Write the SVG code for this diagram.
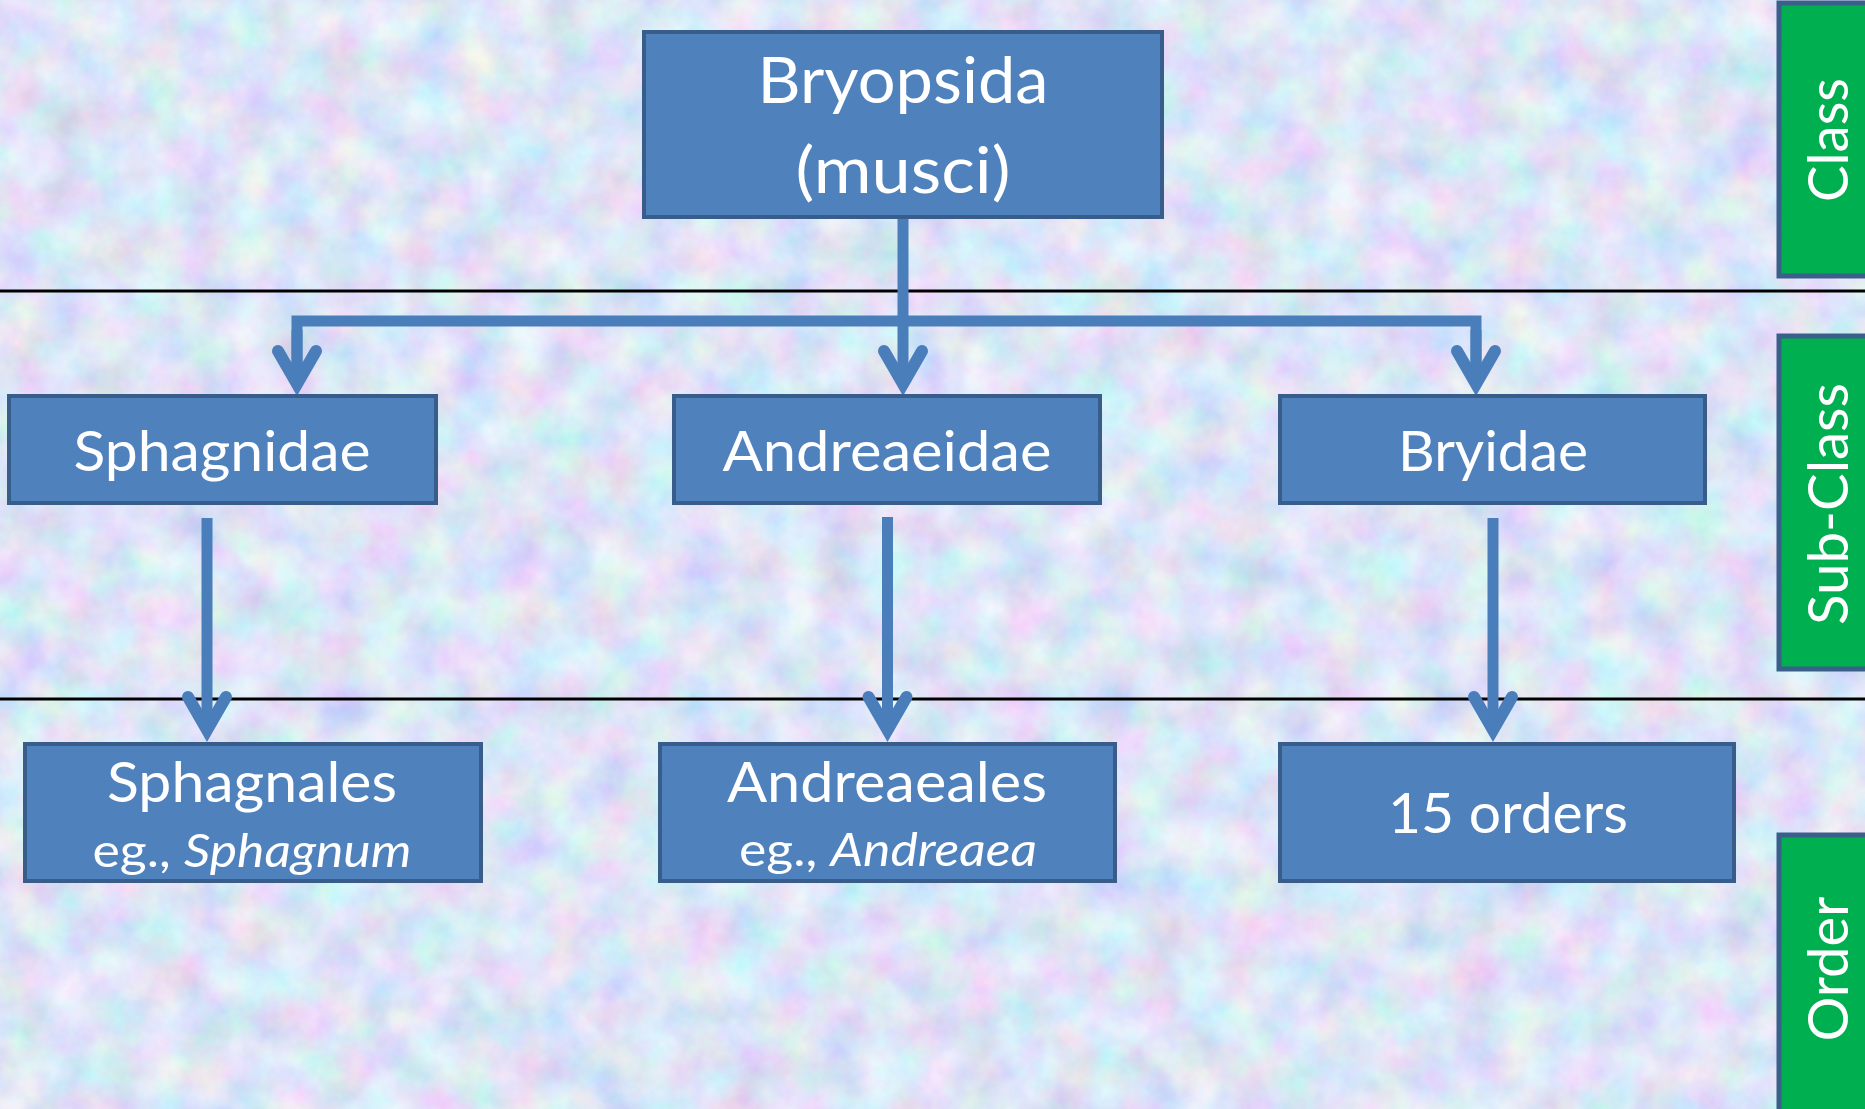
<svg xmlns="http://www.w3.org/2000/svg" width="1865" height="1109" viewBox="0 0 1865 1109">
  <style>
    .node { fill: #4f81bd; stroke: #385d8a; stroke-width: 4; }
    .rank { fill: #00b050; stroke: #3a5f8b; stroke-width: 5; }
    .t { font-family: Lato, "Open Sans", "Liberation Sans", sans-serif; fill: #ffffff; text-anchor: middle; }
    .conn { fill: none; stroke: #4a7ebb; stroke-width: 11; }
    .sep { stroke: #000000; stroke-width: 3; }
  </style>
  <defs>
    <filter id="tex" x="0" y="0" width="100%" height="100%">
      <feTurbulence type="fractalNoise" baseFrequency="0.022" numOctaves="4" seed="7"/>
      <feColorMatrix type="matrix" values="0.7 0 0 0 0.415  0 0.6 0 0 0.52  0 0 0.4 0 0.74  0 0 0 0 1"/>
    </filter>
    <marker id="arrow" markerUnits="userSpaceOnUse" orient="auto" refX="0" refY="0" markerWidth="60" markerHeight="60" viewBox="-45 -30 60 60" overflow="visible">
      <path d="M -33 -19 L 0 0 L -33 19" fill="none" stroke="#4a7ebb" stroke-width="12" stroke-linejoin="miter" stroke-linecap="round"/>
    </marker>
  </defs>

  <!-- background -->
  <rect x="0" y="0" width="1865" height="1109" fill="#c2cff0"/>
  <rect x="0" y="0" width="1865" height="1109" filter="url(#tex)" opacity="0.85"/>

  <!-- separator lines -->
  <g id="separators">
    <line class="sep" x1="0" y1="291" x2="1865" y2="291"/>
    <line class="sep" x1="0" y1="699" x2="1865" y2="699"/>
  </g>

  <!-- connectors -->
  <g id="connectors">
    <line class="conn" x1="903" y1="217" x2="903" y2="384" marker-end="url(#arrow)"/>
    <path class="conn" d="M 297 384 L 297 321 L 1476 321 L 1476 384"/>
    <line class="conn" x1="297" y1="330" x2="297" y2="384" marker-end="url(#arrow)"/>
    <line class="conn" x1="1476" y1="330" x2="1476" y2="384" marker-end="url(#arrow)"/>
    <line class="conn" x1="207" y1="518" x2="207" y2="730" marker-end="url(#arrow)"/>
    <line class="conn" x1="887.5" y1="517" x2="887.5" y2="730" marker-end="url(#arrow)"/>
    <line class="conn" x1="1493" y1="518" x2="1493" y2="730" marker-end="url(#arrow)"/>
  </g>

  <!-- class node -->
  <g id="bryopsida">
    <rect class="node" x="644" y="32" width="518" height="185"/>
    <text class="t" x="903" y="103" font-size="64" textLength="291" lengthAdjust="spacingAndGlyphs">Bryopsida</text>
    <text class="t" x="903" y="193" font-size="64" textLength="215" lengthAdjust="spacingAndGlyphs">(musci)</text>
  </g>

  <!-- sub-class nodes -->
  <g id="sphagnidae">
    <rect class="node" x="9" y="396" width="427" height="107"/>
    <text class="t" x="222" y="471" font-size="57" textLength="297" lengthAdjust="spacingAndGlyphs">Sphagnidae</text>
  </g>
  <g id="andreaeidae">
    <rect class="node" x="674" y="396" width="426" height="107"/>
    <text class="t" x="887" y="471" font-size="57" textLength="329" lengthAdjust="spacingAndGlyphs">Andreaeidae</text>
  </g>
  <g id="bryidae">
    <rect class="node" x="1280" y="396" width="425" height="107"/>
    <text class="t" x="1493" y="471" font-size="57" textLength="190" lengthAdjust="spacingAndGlyphs">Bryidae</text>
  </g>

  <!-- order nodes -->
  <g id="sphagnales">
    <rect class="node" x="25" y="744" width="456" height="137"/>
    <text class="t" x="252" y="802" font-size="57" textLength="290" lengthAdjust="spacingAndGlyphs">Sphagnales</text>
    <text class="t" x="252" y="867" font-size="46" textLength="319" lengthAdjust="spacingAndGlyphs">eg., <tspan font-style="italic">Sphagnum</tspan></text>
  </g>
  <g id="andreaeales">
    <rect class="node" x="660" y="744" width="455" height="137"/>
    <text class="t" x="887" y="802" font-size="57" textLength="320" lengthAdjust="spacingAndGlyphs">Andreaeales</text>
    <text class="t" x="888" y="866" font-size="46" textLength="298" lengthAdjust="spacingAndGlyphs">eg., <tspan font-style="italic">Andreaea</tspan></text>
  </g>
  <g id="orders15">
    <rect class="node" x="1280" y="744" width="454" height="137"/>
    <text class="t" x="1508" y="833" font-size="57" textLength="240" lengthAdjust="spacingAndGlyphs">15 orders</text>
  </g>

  <!-- rank labels -->
  <g id="rank-class">
    <rect class="rank" x="1779" y="3" width="95" height="273"/>
    <text class="t" transform="translate(1848,140) rotate(-90)" font-size="56" textLength="124" lengthAdjust="spacingAndGlyphs">Class</text>
  </g>
  <g id="rank-subclass">
    <rect class="rank" x="1779" y="336" width="95" height="333"/>
    <text class="t" transform="translate(1848,504) rotate(-90)" font-size="56" textLength="242" lengthAdjust="spacingAndGlyphs">Sub-Class</text>
  </g>
  <g id="rank-order">
    <rect class="rank" x="1779" y="835" width="95" height="290"/>
    <text class="t" transform="translate(1848,969) rotate(-90)" font-size="56" textLength="145" lengthAdjust="spacingAndGlyphs">Order</text>
  </g>
</svg>
